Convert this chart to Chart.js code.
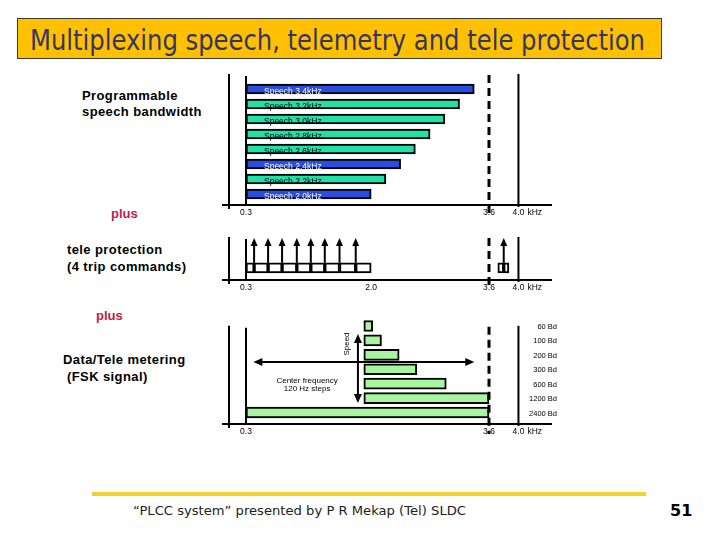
<!DOCTYPE html>
<html>
<head>
<meta charset="utf-8">
<script src="https://cdn.jsdelivr.net/npm/chart.js@4.4.0/dist/chart.umd.min.js"></script>
<style>
  body { margin:0; width:720px; height:540px; background:#fff; position:relative; overflow:hidden;
         font-family:"Liberation Sans", Arial, sans-serif; }
  .abs { position:absolute; white-space:nowrap; }
  #titleBox { left:17px; top:18px; width:645px; height:41px; background:#ffc000; border:1px solid #3a3a3a; box-sizing:border-box; }
  #title { left:30px; top:23px; line-height:34px; font-family:"DejaVu Sans", sans-serif; font-size:29px; color:#35356a; transform-origin:0 0; }
  .lbl { font-weight:bold; font-size:13px; line-height:16px; color:#000; letter-spacing:0.4px; }
  .plus { font-weight:bold; font-size:13px; line-height:16px; color:#c0204a; }
  #footLine { left:92px; top:492px; width:554px; height:4px; background:#f2d230; }
  #footer { left:133px; top:503px; font-family:"DejaVu Sans", sans-serif; font-size:13px; line-height:16px; color:#222; transform-origin:0 0; }
  #page { left:670px; top:501px; font-family:"DejaVu Sans", sans-serif; font-weight:bold; font-size:16px; line-height:20px; color:#000; }
  canvas { position:absolute; }
</style>
</head>
<body>
<div id="titleBox" class="abs"></div>
<div id="title" class="abs">Multiplexing speech, telemetry and tele protection</div>

<div class="abs lbl" style="left:82px; top:88px;">Programmable</div>
<div class="abs lbl" style="left:82px; top:104px;">speech bandwidth</div>
<div class="abs plus" style="left:111px; top:206px;">plus</div>
<div class="abs lbl" style="left:67px; top:242px;">tele protection</div>
<div class="abs lbl" style="left:67px; top:259px;">(4 trip commands)</div>
<div class="abs plus" style="left:96px; top:308px;">plus</div>
<div class="abs lbl" style="left:63px; top:352px;">Data/Tele metering</div>
<div class="abs lbl" style="left:67px; top:369px;">(FSK signal)</div>

<canvas id="speechChart" width="370" height="165" style="left:200px; top:65px;"></canvas>
<canvas id="tripChart" width="370" height="70" style="left:200px; top:230px;"></canvas>
<canvas id="fskChart" width="370" height="135" style="left:200px; top:305px;"></canvas>

<div id="footLine" class="abs"></div>
<div id="footer" class="abs">“PLCC system” presented by P R Mekap (Tel) SLDC</div>
<div id="page" class="abs">51</div>

<script>
// 频率轴上的标记 (kHz)
const bandStart = 0.3;
const speechLimit = 3.6;
const bandEnd = 4.0;

// 语音带宽
const speechLabels = ['Speech 3.4kHz', 'Speech 3.2kHz', 'Speech 3.0kHz', 'Speech 2.8kHz',
                      'Speech 2.6kHz', 'Speech 2.4kHz', 'Speech 2.2kHz', 'Speech 2.0kHz'];
const speechTop = [3.4, 3.2, 3.0, 2.8, 2.6, 2.4, 2.2, 2.0];
const speechColors = ['#2a4ce0', '#22e0a8', '#22e0a8', '#22e0a8', '#22e0a8', '#2a4ce0', '#22e0a8', '#2a4ce0'];
const speechTicks = [0.3, 3.6, 4.0];

// 远方保护 (跳闸命令)
const tripCommands = [0.41, 0.60, 0.79, 0.99, 1.18, 1.37, 1.57, 1.79];
const tripBoxEnd = 2.0;
const guardEdges = [3.72, 3.80, 3.87];
const guardCommand = [3.80];
const tripTicks = [0.3, 2.0, 3.6, 4.0];

// 数据/遥测 FSK
const fskLabels = ['60 Bd', '100 Bd', '200 Bd', '300 Bd', '600 Bd', '1200 Bd', '2400 Bd'];
const fskStart = [1.9, 1.9, 1.9, 1.9, 1.9, 1.9, 0.3];
const fskEnd = [2.02, 2.14, 2.38, 2.62, 3.02, 3.6, 3.6];
const centerSweep = [0.4, 3.4];
const speedArrowAt = 1.82;
const speedRange = [0.55, 5.35];
const fskTicks = [0.3, 3.6, 4.0];

Chart.defaults.font.family = '"Liberation Sans", Arial, sans-serif';

function line(ctx, x1, y1, x2, y2) {
  ctx.beginPath();
  ctx.moveTo(x1, y1);
  ctx.lineTo(x2, y2);
  ctx.stroke();
}

// 箭头: (x, y) 为箭尖, (dx, dy) 为方向
function arrowHead(ctx, x, y, dx, dy, len, half) {
  const px = -dy, py = dx;
  ctx.beginPath();
  ctx.moveTo(x, y);
  ctx.lineTo(x - dx * len + px * half, y - dy * len + py * half);
  ctx.lineTo(x - dx * len - px * half, y - dy * len - py * half);
  ctx.closePath();
  ctx.fill();
}

// 轴线、标记线和刻度文字
function framePlugin(p) {
  return {
    id: 'frame',
    afterDatasetsDraw(chart) {
      const ctx = chart.ctx;
      const a = chart.chartArea;
      const x = chart.scales.x;
      const top = a.top + p.lineTop;
      const base = a.bottom + p.baseGap;
      ctx.save();
      ctx.strokeStyle = '#000';
      ctx.fillStyle = '#000';
      ctx.lineWidth = 2;
      line(ctx, a.left - 24, base, a.left + 306, base);
      line(ctx, a.left - 17, top - 1, a.left - 17, base + 4);
      line(ctx, x.getPixelForValue(bandStart), top + 1, x.getPixelForValue(bandStart), base);
      line(ctx, x.getPixelForValue(bandEnd), top - 1, x.getPixelForValue(bandEnd), base + 2);
      ctx.lineWidth = 3;
      ctx.setLineDash([8, 5]);
      line(ctx, x.getPixelForValue(speechLimit), top, x.getPixelForValue(speechLimit), base + 10);
      ctx.setLineDash([]);

      ctx.font = '8.5px "Liberation Sans", Arial, sans-serif';
      ctx.textAlign = 'center';
      ctx.textBaseline = 'middle';
      p.ticks.forEach(v => {
        const tx = x.getPixelForValue(v);
        ctx.fillText(v.toFixed(1), tx, base + 8);
        if (v === bandEnd) {
          ctx.textAlign = 'left';
          ctx.fillText('kHz', tx + 9, base + 8);
          ctx.textAlign = 'center';
        }
      });
      if (p.extra) p.extra(chart, ctx);
      ctx.restore();
    }
  };
}

function baseOptions(padding, yScale) {
  return {
    indexAxis: 'y',
    responsive: false,
    animation: false,
    events: [],
    layout: { padding: padding },
    plugins: { legend: { display: false }, tooltip: { enabled: false } },
    scales: {
      x: { type: 'linear', min: 0.3, max: 4.7, display: false },
      y: yScale
    }
  };
}

// 语音带宽图
new Chart(document.getElementById('speechChart'), {
  type: 'bar',
  data: {
    labels: speechLabels,
    datasets: [{
      data: speechTop.map(v => [bandStart, v]),
      backgroundColor: speechColors,
      borderColor: '#000',
      borderWidth: 2,
      borderSkipped: false,
      barThickness: 10
    }]
  },
  options: baseOptions({ left: 46, right: 0, top: 16.5, bottom: 28.5 }, { type: 'category', display: false }),
  plugins: [framePlugin({
    lineTop: -6.5, baseGap: 3.5, ticks: speechTicks,
    extra(chart, ctx) {
      const meta = chart.getDatasetMeta(0);
      ctx.font = '8.5px "Liberation Sans", Arial, sans-serif';
      ctx.textAlign = 'left';
      ctx.textBaseline = 'middle';
      meta.data.forEach((bar, i) => {
        ctx.fillStyle = speechColors[i] === '#2a4ce0' ? '#fff' : '#000';
        ctx.fillText(chart.data.labels[i], Math.min(bar.x, bar.base) + 18, bar.y + 2.5);
      });
    }
  })]
});

// 跳闸命令图
const tripEdges = [bandStart, ...tripCommands, tripBoxEnd];
const tripCells = [];
for (let i = 0; i < tripEdges.length - 1; i++) tripCells.push([tripEdges[i], tripEdges[i + 1]]);
for (let i = 0; i < guardEdges.length - 1; i++) tripCells.push([guardEdges[i], guardEdges[i + 1]]);
const tripLevel = 0.29;

new Chart(document.getElementById('tripChart'), {
  type: 'bar',
  data: {
    datasets: [{
      data: tripCells.map(c => ({ x: c, y: tripLevel })),
      backgroundColor: '#fff',
      borderColor: '#000',
      borderWidth: 2,
      borderSkipped: false,
      barThickness: 10
    }]
  },
  options: baseOptions({ left: 46, right: 0, top: 8, bottom: 20 },
                      { type: 'linear', min: 0, max: 1, offset: false, display: false }),
  plugins: [framePlugin({
    lineTop: 0, baseGap: 0, ticks: tripTicks,
    extra(chart, ctx) {
      const x = chart.scales.x, y = chart.scales.y;
      const from = y.getPixelForValue(tripLevel) - 5;
      const to = y.getPixelForValue(1);
      ctx.lineWidth = 2;
      [...tripCommands, ...guardCommand].forEach(f => {
        const px = x.getPixelForValue(f);
        line(ctx, px, from, px, to + 5);
        arrowHead(ctx, px, to, 0, -1, 8, 3.5);
      });
    }
  })]
});

// FSK 图
new Chart(document.getElementById('fskChart'), {
  type: 'bar',
  data: {
    labels: fskLabels,
    datasets: [{
      data: fskStart.map((s, i) => [s, fskEnd[i]]),
      backgroundColor: '#a8f5a0',
      borderColor: '#000',
      borderWidth: 2,
      borderSkipped: false,
      barThickness: 11
    }]
  },
  options: baseOptions({ left: 46, right: 0, top: 13.8, bottom: 20.3 }, { type: 'category', display: false }),
  plugins: [framePlugin({
    lineTop: 8, baseGap: 4.3, ticks: fskTicks,
    extra(chart, ctx) {
      const x = chart.scales.x, y = chart.scales.y;
      const a = chart.chartArea;
      ctx.lineWidth = 2;
      // 中心频率扫描箭头
      const hy = y.getPixelForValue(2.5);
      const hx1 = x.getPixelForValue(centerSweep[0]), hx2 = x.getPixelForValue(centerSweep[1]);
      line(ctx, hx1 + 6, hy, hx2 - 6, hy);
      arrowHead(ctx, hx1, hy, -1, 0, 9, 4);
      arrowHead(ctx, hx2, hy, 1, 0, 9, 4);
      // 速率箭头
      const vx = x.getPixelForValue(speedArrowAt);
      const vy1 = y.getPixelForValue(speedRange[0]), vy2 = y.getPixelForValue(speedRange[1]);
      line(ctx, vx, vy1 + 6, vx, vy2 - 6);
      arrowHead(ctx, vx, vy1, 0, -1, 9, 4);
      arrowHead(ctx, vx, vy2, 0, 1, 9, 4);

      ctx.font = '8px "Liberation Sans", Arial, sans-serif';
      ctx.textAlign = 'center';
      ctx.textBaseline = 'middle';
      ctx.fillText('Center frequency', x.getPixelForValue(1.13), y.getPixelForValue(3.8));
      ctx.fillText('120 Hz steps', x.getPixelForValue(1.13), y.getPixelForValue(4.35));
      ctx.save();
      ctx.translate(x.getPixelForValue(1.67), y.getPixelForValue(1.25));
      ctx.rotate(-Math.PI / 2);
      ctx.fillText('Speed', 0, 0);
      ctx.restore();

      // 波特率标签
      ctx.textAlign = 'right';
      ctx.font = '7.5px "Liberation Sans", Arial, sans-serif';
      chart.data.labels.forEach((lab, i) => {
        ctx.fillText(lab, a.right - 13, y.getPixelForValue(i) + 1);
      });
    }
  })]
});

// 标题和页脚按原图宽度压缩
function fitWidth(id, target) {
  const el = document.getElementById(id);
  const w = el.getBoundingClientRect().width;
  el.style.transform = `scaleX(${target / w})`;
}
fitWidth('title', 615);
fitWidth('footer', 333);
</script>
</body>
</html>
